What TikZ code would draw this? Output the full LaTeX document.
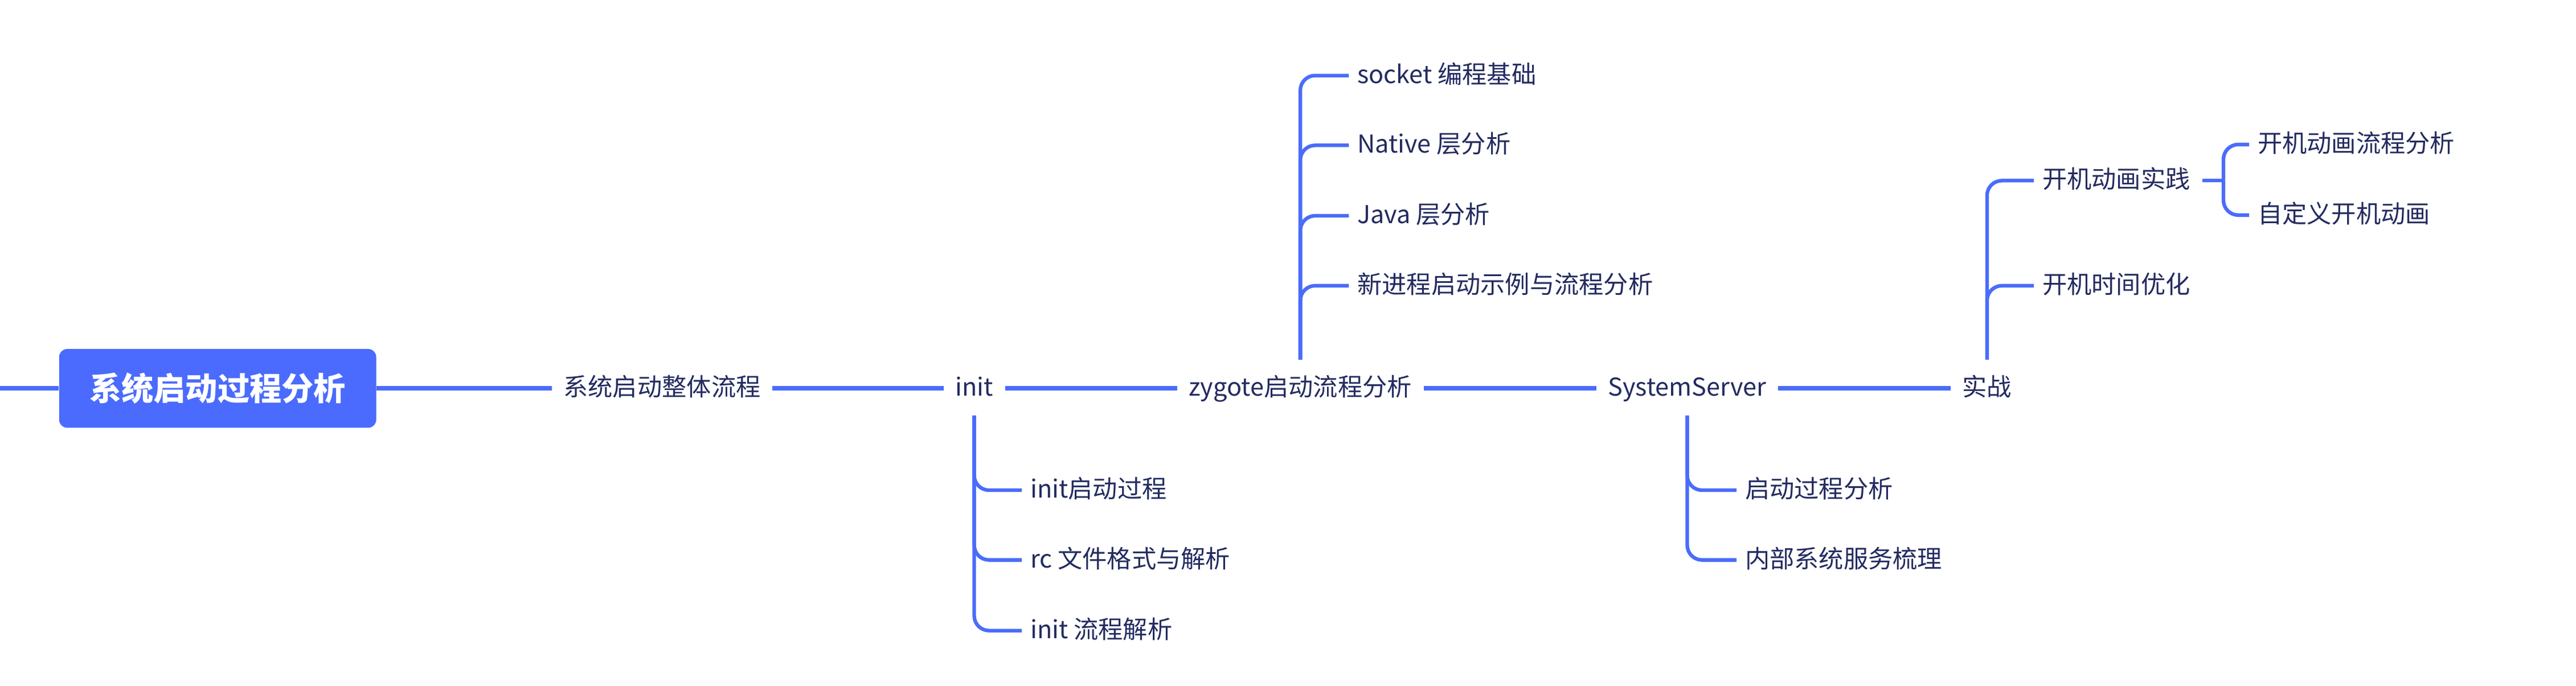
\documentclass[tikz,border=0pt]{standalone}
\usepackage{fontspec}
\setmainfont{Noto Sans CJK SC}
\definecolor{lineblue}{HTML}{4A6CFA}
\definecolor{rootblue}{HTML}{4A6BFD}
\definecolor{txt}{HTML}{232B60}
\begin{document}
\begin{tikzpicture}[x=1pt,y=-1pt,
  lbl/.style={font=\fontsize{15}{18}\selectfont, text=txt, inner ysep=0pt, text height=0.97em, text depth=0.03em},
  mainlbl/.style={lbl, inner xsep=7pt},
  sublbl/.style={lbl, inner xsep=5pt, anchor=west},
  mainline/.style={draw=lineblue, line width=2.8pt},
  branch/.style={draw=lineblue, line width=2.2pt, rounded corners=9pt},
  rootbox/.style={fill=rootblue, rounded corners=5pt, minimum width=193pt, minimum height=48pt, inner sep=0pt, text=white, font=\fontsize{19.5}{22}\selectfont\bfseries}]
\useasboundingbox (0,0) rectangle (1568,417.4);

% main chain
\coordinate (L) at (0,236.5);
\node[rootbox] (root) at (132.5,236.5) {系统启动过程分析};
\node[mainlbl] (n1) at (403,236.5) {系统启动整体流程};
\node[mainlbl] (init) at (593,236.5) {init};
\node[mainlbl] (zyg) at (791.5,236.5) {zygote启动流程分析};
\node[mainlbl] (ss) at (1027,236.5) {SystemServer};
\node[mainlbl] (sz) at (1209.5,236.5) {实战};

\draw[mainline] (L) -- (root.west);
\draw[mainline] (root.east) -- (n1.west);
\draw[mainline] (n1.east) -- (init.west);
\draw[mainline] (init.east) -- (zyg.west);
\draw[mainline] (zyg.east) -- (ss.west);
\draw[mainline] (ss.east) -- (sz.west);

% zygote children
\node[sublbl] (z1) at (821,46) {socket 编程基础};
\node[sublbl] (z2) at (821,88.5) {Native 层分析};
\node[sublbl] (z3) at (821,131.4) {Java 层分析};
\node[sublbl] (z4) at (821,174) {新进程启动示例与流程分析};
\foreach \c in {z1,z2,z3,z4}
  \draw[branch] ([yshift=17.5pt]zyg.center) |- (\c.west);

% init children
\node[sublbl] (i1) at (622,298.5) {init启动过程};
\node[sublbl] (i2) at (622,341) {rc 文件格式与解析};
\node[sublbl] (i3) at (622,384) {init 流程解析};
\foreach \c in {i1,i2,i3}
  \draw[branch] ([yshift=-16.5pt]init.center) |- (\c.west);

% SystemServer children
\node[sublbl] (s1) at (1057,298.5) {启动过程分析};
\node[sublbl] (s2) at (1057,341) {内部系统服务梳理};
\foreach \c in {s1,s2}
  \draw[branch] ([yshift=-16.5pt]ss.center) |- (\c.west);

% 实战 children
\node[sublbl] (k1) at (1238,110) {开机动画实践};
\node[sublbl] (k2) at (1238,174) {开机时间优化};
\foreach \c in {k1,k2}
  \draw[branch] ([yshift=17.5pt]sz.center) |- (\c.west);

% 开机动画实践 children
\node[sublbl] (d1) at (1369,88) {开机动画流程分析};
\node[sublbl] (d2) at (1369,131) {自定义开机动画};
\draw[branch] ([xshift=2pt]k1.east) -- ++(13,0) coordinate (kv);
\foreach \c in {d1,d2}
  \draw[branch] (kv) |- (\c.west);
\end{tikzpicture}
\end{document}
